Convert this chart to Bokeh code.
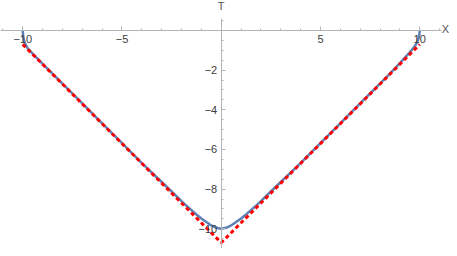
from bokeh.plotting import figure
from bokeh.models import LinearAxis, FixedTicker, Range1d
from bokeh.core.properties import value
from bokeh.embed import file_html
from bokeh.resources import INLINE

# ---- data ----
x_blue = [-10.0, -9.98, -9.93, -9.85, -9.75, -9.5, -9.0, -8.5, -8.0, -7.0, -6.0, -5.0, -4.0, -3.0,
          -2.5, -2.0, -1.75, -1.5, -1.25, -1.0, -0.75, -0.5, -0.25, 0.0,
          0.25, 0.5, 0.75, 1.0, 1.25, 1.5, 1.75, 2.0, 2.5, 3.0, 4.0, 5.0, 6.0, 7.0,
          8.0, 8.5, 9.0, 9.5, 9.75, 9.85, 9.93, 9.98, 10.0]
t_blue = [0.0, -0.28, -0.52, -0.73, -0.9, -1.17, -1.68, -2.18, -2.68, -3.68, -4.68, -5.68, -6.69, -7.64,
          -8.12, -8.6, -8.84, -9.06, -9.28, -9.48, -9.66, -9.83, -9.95, -10.0,
          -9.95, -9.83, -9.66, -9.48, -9.28, -9.06, -8.84, -8.6, -8.12, -7.64, -6.69, -5.68, -4.68, -3.68,
          -2.68, -2.17, -1.64, -1.1, -0.8, -0.62, -0.44, -0.22, 0.0]

x_red = [-10.0, 0.0, 10.0]
t_red = [-0.7, -10.7, -0.7]

x_major = [-10, -5, 5, 10]
x_minor = [-11, -9, -8, -7, -6, -4, -3, -2, -1, 0, 1, 2, 3, 4, 6, 7, 8, 9, 11]
t_major = [-10, -8, -6, -4, -2]
t_minor = [-11.0, -10.5, -9.5, -9.0, -8.5, -7.5, -7.0, -6.5, -5.5, -5.0, -4.5, -3.5, -3.0,
           -2.5, -1.5, -1.0, -0.5, 0.5]
x_labels = {-10: "\u221210", -5: "\u22125", 5: "5", 10: "10"}
t_labels = {-10: "\u221210", -8: "\u22128", -6: "\u22126", -4: "\u22124", -2: "\u22122"}

AXIS = "#b4b4b4"
LABEL = "#3c3c3c"
FONT = "Liberation Sans"

p = figure(width=449, height=248, output_backend="svg", toolbar_location=None,
           x_axis_type=None, y_axis_type=None, min_border=0,
           x_range=Range1d(-11.12, 11.50), y_range=Range1d(-10.993, 1.513))
p.outline_line_color = None
p.xgrid.visible = False
p.ygrid.visible = False
p.background_fill_color = "white"


def style(ax):
    ax.axis_line_color = AXIS
    ax.major_tick_line_color = AXIS
    ax.minor_tick_line_color = AXIS
    ax.major_tick_in = 4
    ax.major_tick_out = 0
    ax.minor_tick_in = 2
    ax.minor_tick_out = 0
    ax.major_label_text_font = FONT
    ax.major_label_text_font_size = "11px"
    ax.major_label_text_color = LABEL
    ax.major_label_standoff = 4


xaxis = LinearAxis(fixed_location=0, ticker=FixedTicker(ticks=x_major, minor_ticks=x_minor),
                   major_label_overrides=x_labels, bounds=(-11.2, 11.1))
style(xaxis)
yaxis = LinearAxis(fixed_location=0, ticker=FixedTicker(ticks=t_major, minor_ticks=t_minor),
                   major_label_overrides=t_labels, bounds=(-11.5, 0.62))
style(yaxis)
p.add_layout(xaxis, "below")
p.add_layout(yaxis, "left")

p.line(x_blue, t_blue, line_color="#5E81B5", line_width=2.5, line_join="round")
p.line(x_red, t_red, line_color="#FF0000", line_width=3, line_dash="4 3")

p.text(x=[11.48], y=[0.08], text=["X"], text_font=value(FONT), text_font_size="11px",
       text_color="#555555", text_align="right", text_baseline="middle")
p.text(x=[0.0], y=[1.26], text=["T"], text_font=value(FONT), text_font_size="11px",
       text_color="#555555", text_align="center", text_baseline="middle")

open("out.html", "w").write(file_html(p, INLINE))
